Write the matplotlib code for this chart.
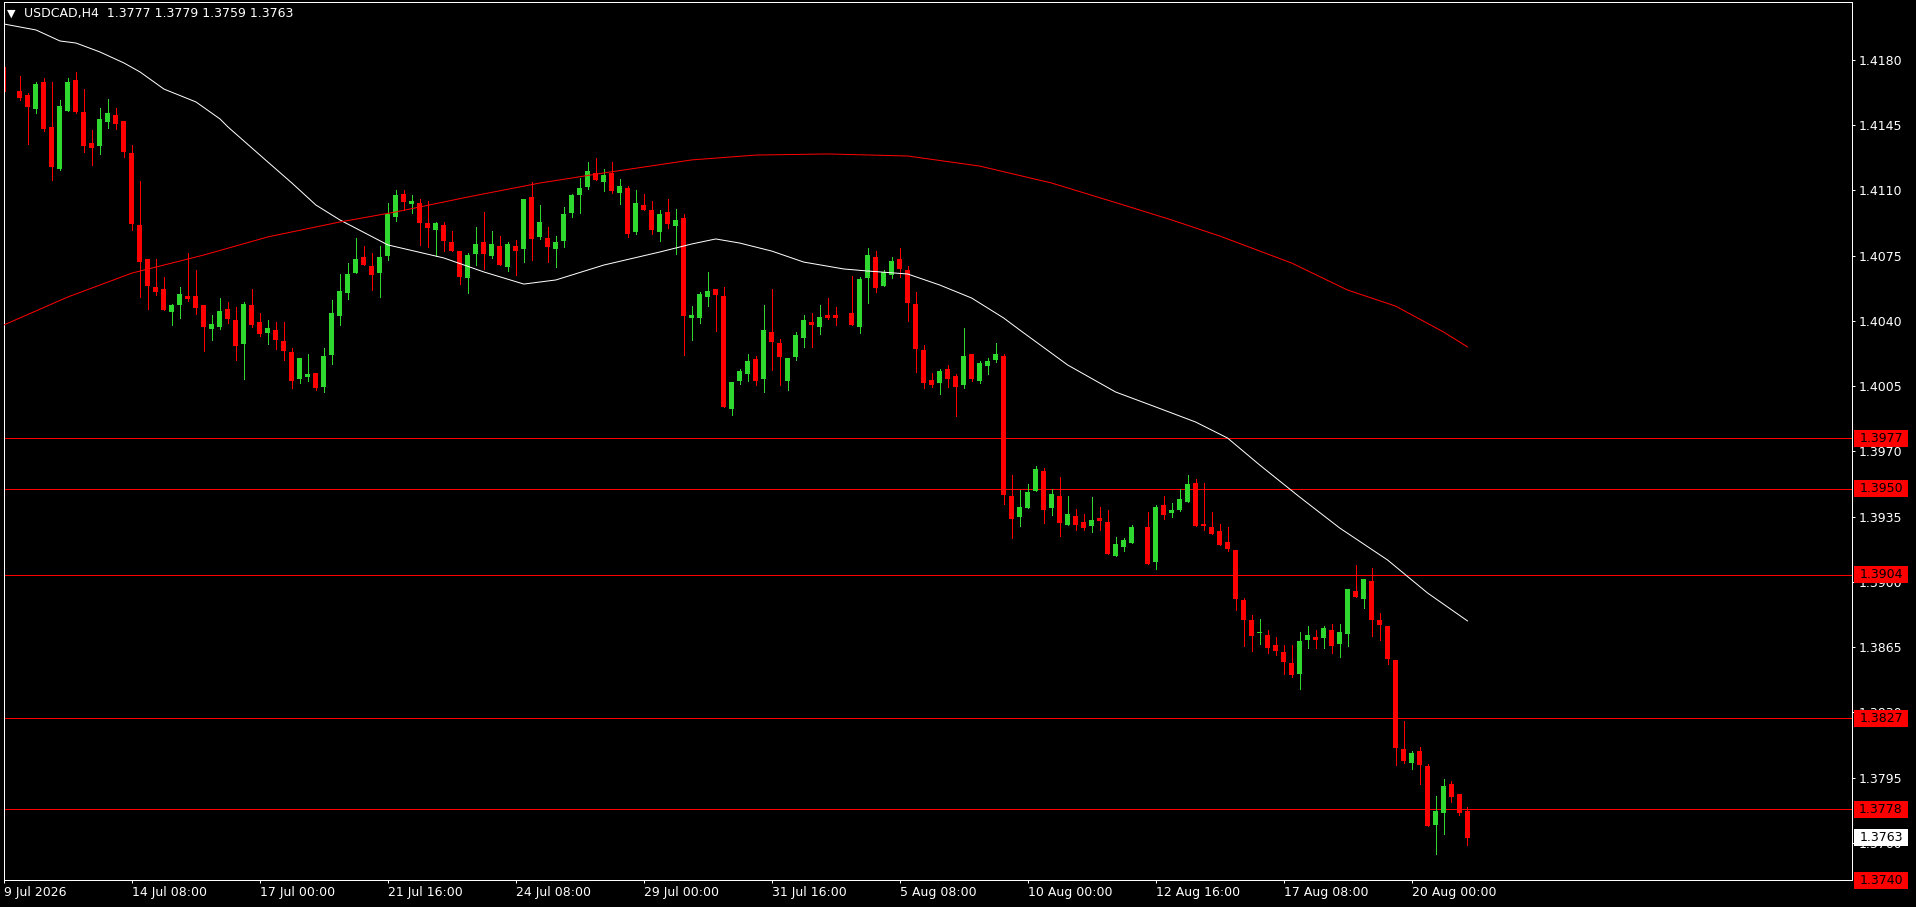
"""
USDCAD H4 candlestick chart in the MetaTrader style:
black background, green/red candles, two moving averages,
red horizontal levels with price tags on the right axis.
"""
import matplotlib
matplotlib.use("Agg")
import matplotlib.pyplot as plt
import matplotlib.transforms as mtransforms
from matplotlib.patches import Rectangle
import numpy as np

nan = np.nan

# ---------------------------------------------------------------------------
# Data. Index = H4 bar number from the left edge.
# nan = bar that is not visible on the chart
# ---------------------------------------------------------------------------
opens = [
    1.41760, nan, 1.41633, 1.41612, 1.41539, 1.41682, 1.41440, 1.41215, 1.41528, 1.41692,
    1.41523, 1.41354, 1.41338, 1.41469, 1.41505, 1.41473, 1.41301, 1.40915, 1.40732, 1.40582,
    1.40571, 1.40450, 1.40485, 1.40534, 1.40534, 1.40485, 1.40357, 1.40368, 1.40464, 1.40405,
    1.40277, 1.40486, 1.40395, 1.40336, 1.40352, 1.40293, 1.40234, 1.40089, 1.40100, 1.40121,
    1.40046, 1.40218, 1.40427, 1.40550, 1.40657, 1.40743, 1.40695, 1.40657, 1.40749, 1.40958,
    1.41081, 1.41027, 1.41033, 1.40926, 1.40888, 1.40915, 1.40824, 1.40775, 1.40632, 1.40759,
    1.40824, 1.40749, 1.40802, 1.40690, 1.40802, 1.40786, 1.41065, 1.40851, 1.40845, 1.40786,
    1.40829, 1.40979, 1.41076, 1.41119, 1.41194, 1.41146, 1.41194, 1.41087, 1.41113, 1.40877,
    1.41022, 1.40995, 1.40877, 1.40985, 1.40910, 1.40952, 1.40416, 1.40416, 1.40529, 1.40572,
    1.40534, 1.39928, 1.40078, 1.40116, 1.40196, 1.40089, 1.40341, 1.40282, 1.40078, 1.40207,
    1.40309, 1.40395, 1.40368, 1.40432, 1.40432, nan, 1.40443, 1.40368, 1.40631, 1.40743,
    1.40588, 1.40647, 1.40732, 1.40673, 1.40491, 1.40244, 1.40083, 1.40067, 1.40142, 1.40105,
    1.40057, 1.40223, 1.40078, 1.40158, 1.40191, 1.40212, 1.39461, 1.39349, 1.39397, 1.39488,
    1.39595, 1.39397, 1.39461, 1.39306, 1.39354, 1.39322, 1.39300, 1.39343, 1.39322, 1.39139,
    1.39188, 1.39209, nan, 1.39295, 1.39107, 1.39413, 1.39370, 1.39386, 1.39429, 1.39531,
    1.39311, 1.39295, 1.39274, 1.39215, 1.39172, 1.38903, 1.38796, 1.38726, 1.38716, 1.38662,
    1.38625, 1.38566, 1.38507, 1.38689, 1.38705, 1.38700, 1.38743, 1.38667, 1.38721, 1.38952,
    1.38909, 1.39005, 1.38796, 1.38764, 1.38582, 1.38104, 1.38029, 1.38093, 1.38013, 1.37697,
    1.37761, 1.37916, 1.37863, 1.37772,
]
highs = [
    1.41809, nan, 1.41716, 1.41625, 1.41682, 1.41703, 1.41682, 1.41585, 1.41703, 1.41735,
    1.41644, 1.41424, 1.41542, 1.41591, 1.41542, 1.41473, 1.41344, 1.41151, 1.40732, 1.40732,
    1.40636, 1.40491, 1.40582, 1.40764, 1.40673, 1.40485, 1.40432, 1.40523, 1.40502, 1.40475,
    1.40502, 1.40572, 1.40443, 1.40405, 1.40395, 1.40395, 1.40255, 1.40202, 1.40223, 1.40121,
    1.40255, 1.40513, 1.40652, 1.40711, 1.40845, 1.40802, 1.40765, 1.40802, 1.41033, 1.41103,
    1.41103, 1.41076, 1.41054, 1.41044, 1.40931, 1.40931, 1.40883, 1.40775, 1.40765, 1.40904,
    1.40985, 1.40883, 1.40856, 1.40824, 1.40834, 1.41054, 1.41146, 1.41022, 1.40904, 1.40856,
    1.41011, 1.41081, 1.41167, 1.41253, 1.41274, 1.41215, 1.41253, 1.41161, 1.41124, 1.41103,
    1.41081, 1.41044, 1.40995, 1.41054, 1.41001, 1.40974, 1.40481, 1.40556, 1.40663, 1.40572,
    1.40582, 1.40073, 1.40140, 1.40223, 1.40212, 1.40486, 1.40572, 1.40303, 1.40201, 1.40341,
    1.40432, 1.40443, 1.40486, 1.40523, 1.40475, nan, 1.40641, 1.40636, 1.40792, 1.40775,
    1.40673, 1.40743, 1.40792, 1.40695, 1.40555, 1.40271, 1.40121, 1.40142, 1.40164, 1.40116,
    1.40362, 1.40223, 1.40185, 1.40201, 1.40282, 1.40223, 1.39574, 1.39493, 1.39526, 1.39622,
    1.39611, 1.39499, 1.39563, 1.39461, 1.39392, 1.39365, 1.39456, 1.39402, 1.39386, 1.39241,
    1.39236, 1.39306, nan, 1.39375, 1.39413, 1.39461, 1.39424, 1.39499, 1.39574, 1.39552,
    1.39531, 1.39375, 1.39311, 1.39295, 1.39172, 1.38914, 1.38823, 1.38802, 1.38743, 1.38705,
    1.38662, 1.38662, 1.38732, 1.38764, 1.38743, 1.38764, 1.38775, 1.38775, 1.38962, 1.39091,
    1.39016, 1.39075, 1.38834, 1.38764, 1.38582, 1.38254, 1.38093, 1.38115, 1.38024, 1.37852,
    1.37943, 1.37933, 1.37863, 1.37793,
]
lows = [
    1.41571, nan, 1.41585, 1.41349, 1.41517, 1.41421, 1.41156, 1.41211, 1.41528, 1.41517,
    1.41306, 1.41237, 1.41296, 1.41435, 1.41430, 1.41279, 1.40888, 1.40530, 1.40462, 1.40539,
    1.40460, 1.40378, 1.40418, 1.40509, 1.40439, 1.40241, 1.40298, 1.40357, 1.40389, 1.40191,
    1.40089, 1.40368, 1.40320, 1.40277, 1.40250, 1.40191, 1.40041, 1.40067, 1.40078, 1.40030,
    1.40019, 1.40169, 1.40378, 1.40518, 1.40657, 1.40700, 1.40566, 1.40529, 1.40727, 1.40936,
    1.40995, 1.40979, 1.40808, 1.40797, 1.40749, 1.40775, 1.40775, 1.40598, 1.40552, 1.40700,
    1.40679, 1.40738, 1.40700, 1.40668, 1.40647, 1.40716, 1.40727, 1.40840, 1.40716, 1.40690,
    1.40797, 1.40958, 1.40979, 1.41108, 1.41156, 1.41097, 1.41087, 1.41027, 1.40851, 1.40867,
    1.40995, 1.40867, 1.40829, 1.40899, 1.40759, 1.40218, 1.40298, 1.40389, 1.40481, 1.40346,
    1.39939, 1.39896, 1.40060, 1.40078, 1.40057, 1.40019, 1.40137, 1.40057, 1.40030, 1.40191,
    1.40260, 1.40260, 1.40330, 1.40411, 1.40378, nan, 1.40378, 1.40336, 1.40496, 1.40555,
    1.40588, 1.40631, 1.40636, 1.40400, 1.40126, 1.40041, 1.40046, 1.40008, 1.40046, 1.39890,
    1.40041, 1.40078, 1.40067, 1.40116, 1.40180, 1.39418, 1.39236, 1.39300, 1.39397, 1.39488,
    1.39316, 1.39359, 1.39247, 1.39306, 1.39279, 1.39279, 1.39268, 1.39279, 1.39150, 1.39139,
    1.39166, 1.39209, nan, 1.39097, 1.39070, 1.39338, 1.39349, 1.39381, 1.39429, 1.39300,
    1.39279, 1.39257, 1.39198, 1.39166, 1.38850, 1.38657, 1.38630, 1.38667, 1.38619, 1.38608,
    1.38507, 1.38490, 1.38426, 1.38646, 1.38646, 1.38646, 1.38619, 1.38598, 1.38657, 1.38920,
    1.38861, 1.38710, 1.38689, 1.38560, 1.38018, 1.38029, 1.37997, 1.37916, 1.37691, 1.37541,
    1.37648, 1.37820, 1.37750, 1.37589,
]
closes = [
    1.41630, nan, 1.41598, 1.41549, 1.41673, 1.41430, 1.41228, 1.41553, 1.41682, 1.41523,
    1.41338, 1.41329, 1.41483, 1.41515, 1.41458, 1.41306, 1.40922, 1.40718, 1.40589, 1.40557,
    1.40460, 1.40485, 1.40545, 1.40520, 1.40471, 1.40369, 1.40384, 1.40454, 1.40411, 1.40266,
    1.40491, 1.40378, 1.40330, 1.40362, 1.40298, 1.40239, 1.40078, 1.40202, 1.40116, 1.40041,
    1.40212, 1.40443, 1.40561, 1.40652, 1.40732, 1.40700, 1.40647, 1.40743, 1.40974, 1.41076,
    1.41038, 1.41044, 1.40926, 1.40899, 1.40926, 1.40829, 1.40775, 1.40636, 1.40754, 1.40813,
    1.40759, 1.40813, 1.40700, 1.40813, 1.40775, 1.41054, 1.40840, 1.40931, 1.40797, 1.40824,
    1.40974, 1.41076, 1.41113, 1.41205, 1.41156, 1.41183, 1.41097, 1.41124, 1.40867, 1.41033,
    1.40995, 1.40888, 1.40974, 1.40920, 1.40942, 1.40427, 1.40432, 1.40545, 1.40561, 1.40539,
    1.39939, 1.40073, 1.40132, 1.40185, 1.40078, 1.40352, 1.40287, 1.40207, 1.40201, 1.40325,
    1.40405, 1.40378, 1.40421, 1.40416, 1.40416, nan, 1.40378, 1.40625, 1.40754, 1.40577,
    1.40663, 1.40722, 1.40679, 1.40496, 1.40250, 1.40067, 1.40057, 1.40132, 1.40089, 1.40046,
    1.40212, 1.40089, 1.40175, 1.40185, 1.40223, 1.39467, 1.39338, 1.39402, 1.39483, 1.39606,
    1.39386, 1.39472, 1.39316, 1.39365, 1.39306, 1.39290, 1.39333, 1.39327, 1.39150, 1.39204,
    1.39225, 1.39295, nan, 1.39097, 1.39402, 1.39359, 1.39386, 1.39445, 1.39526, 1.39300,
    1.39300, 1.39257, 1.39198, 1.39177, 1.38909, 1.38796, 1.38710, 1.38732, 1.38646, 1.38630,
    1.38571, 1.38501, 1.38684, 1.38716, 1.38689, 1.38753, 1.38657, 1.38732, 1.38962, 1.38920,
    1.39016, 1.38796, 1.38769, 1.38587, 1.38110, 1.38040, 1.38083, 1.38018, 1.37691, 1.37772,
    1.37906, 1.37847, 1.37761, 1.37627,
]

# moving averages, read at selected bars
fast_ma_bars = [0, 4, 7, 9, 12, 15, 17, 20, 24, 27, 28, 32, 36, 39, 42, 48, 55, 60, 65,
                69, 75, 82, 86, 89, 92, 96, 100, 105, 108, 113, 117, 121, 125, 127, 133,
                139, 144, 149, 153, 157, 162, 167, 173, 178, 183]
fast_ma_vals = [1.41993, 1.41961, 1.41902, 1.41891, 1.41843, 1.41784, 1.41736, 1.41644,
                1.41575, 1.41484, 1.41441, 1.41290, 1.41140, 1.41022, 1.40942, 1.40808,
                1.40738, 1.40663, 1.40598, 1.40620, 1.40700, 1.40770, 1.40813, 1.40840,
                1.40818, 1.40775, 1.40716, 1.40679, 1.40668, 1.40652, 1.40593, 1.40523,
                1.40416, 1.40352, 1.40164, 1.40019, 1.39939, 1.39858, 1.39772, 1.39628,
                1.39456, 1.39290, 1.39118, 1.38941, 1.38791]
slow_ma_bars = [0, 8, 16, 25, 33, 42, 49, 58, 67, 75, 86, 94, 103, 113, 122, 131, 140,
                146, 152, 161, 168, 174, 180, 183]
slow_ma_vals = [1.40379, 1.40529, 1.40657, 1.40754, 1.40851, 1.40931, 1.40985, 1.41065,
                1.41140, 1.41194, 1.41264, 1.41290, 1.41296, 1.41285, 1.41231, 1.41140,
                1.41022, 1.40942, 1.40856, 1.40711, 1.40566, 1.40480, 1.40341, 1.40261]

level_prices = [1.3977, 1.3950, 1.3904, 1.3827, 1.3778, 1.3740]
last_price = 1.3763
price_ticks = [1.4180, 1.4145, 1.4110, 1.4075, 1.4040, 1.4005, 1.3970, 1.3935,
               1.3900, 1.3865, 1.3830, 1.3795, 1.3760]
time_tick_bars = [0, 16, 32, 48, 64, 80, 96, 112, 128, 144, 160, 176]
time_tick_labels = ["9 Jul 2026", "14 Jul 08:00", "17 Jul 00:00", "21 Jul 16:00",
                    "24 Jul 08:00", "29 Jul 00:00", "31 Jul 16:00", "5 Aug 08:00",
                    "10 Aug 00:00", "12 Aug 16:00", "17 Aug 08:00", "20 Aug 00:00"]
header = "USDCAD,H4  1.3777 1.3779 1.3759 1.3763"

# ---------------------------------------------------------------------------
BULL = "#2ed82e"
BEAR = "#ff0000"
W, H = 1916, 907
PX = 0.72  # one pixel in points at dpi 100

plt.rcParams["font.family"] = ["DejaVu Sans"]

fig = plt.figure(figsize=(W / 100, H / 100), dpi=100, facecolor="black")
ax = fig.add_axes([4 / W, (H - 880) / H, 1848 / W, 878 / H], facecolor="black")

ax.set_xlim(0.084, 231.08)
ax.set_ylim(1.374012, 1.421111)
px_per_unit = 878 / (1.421111 - 1.374012)

o = np.array(opens)
hi = np.array(highs)
lo = np.array(lows)
c = np.array(closes)
x = np.arange(len(o))
ok = ~np.isnan(o)
up = c >= o
cols = np.where(up, BULL, BEAR)[ok]

# horizontal levels (behind candles)
for lv in level_prices:
    ax.axhline(lv, color=BEAR, lw=PX, zorder=1, clip_on=False)

# candles
ax.vlines(x[ok], lo[ok], hi[ok], colors=cols, lw=PX, antialiased=False, zorder=2)
body = np.maximum(np.abs(c - o), 1.0 / px_per_unit)
ax.bar(x[ok], body[ok], bottom=np.minimum(o, c)[ok], width=0.625, color=cols,
       linewidth=0, antialiased=False, zorder=2)

# moving averages
ax.plot(fast_ma_bars, fast_ma_vals, color="white", lw=PX, zorder=3)
ax.plot(slow_ma_bars, slow_ma_vals, color=BEAR, lw=PX, zorder=3)

# frame
for sp in ax.spines.values():
    sp.set_color("white")
    sp.set_linewidth(PX)

# price axis on the right
ax.yaxis.tick_right()
ax.set_yticks(price_ticks)
ax.set_yticklabels([f"{p:.4f}" for p in price_ticks])
ax.tick_params(axis="y", colors="white", length=3 * PX, width=PX, pad=3, labelsize=9)

# time axis
ax.set_xticks(time_tick_bars)
ax.set_xticklabels(time_tick_labels)
ax.tick_params(axis="x", colors="white", length=3 * PX, width=PX, pad=2, labelsize=9)
for lbl in ax.get_xticklabels():
    lbl.set_horizontalalignment("left")

# price tags
tag_tr = mtransforms.blended_transform_factory(fig.transFigure, ax.transData)
tag_h = 17 / px_per_unit
tag_x0, tag_w = 1854 / W, 54 / W
for lv in level_prices + [last_price]:
    face = "white" if lv == last_price else BEAR
    ax.add_patch(Rectangle((tag_x0, lv - tag_h / 2), tag_w, tag_h, transform=tag_tr,
                           facecolor=face, edgecolor="none", clip_on=False, zorder=5))
    ax.text(tag_x0 + tag_w / 2, lv, f"{lv:.4f}", transform=tag_tr, ha="center",
            va="center", color="black", fontsize=9, zorder=6, clip_on=False)

# header
fig.text(7 / W, 1 - 14 / H, "\u25bc", color="white", fontsize=8, va="center", ha="left")
fig.text(24 / W, 1 - 14 / H, header, color="white", fontsize=9, va="center", ha="left")

fig.savefig("out.png", dpi=100, facecolor="black")
